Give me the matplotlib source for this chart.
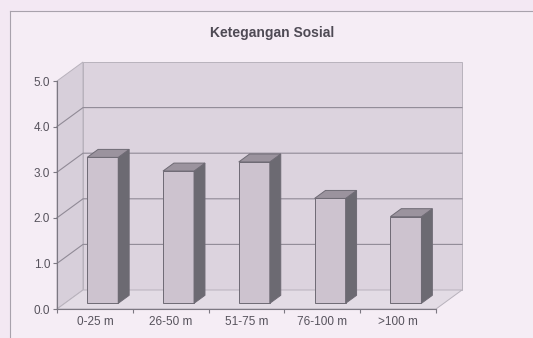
import matplotlib.pyplot as plt
import numpy as np

plt.rcParams['font.family'] = ['Liberation Sans', 'DejaVu Sans']

categories = ["0-25 m", "26-50 m", "51-75 m", "76-100 m", ">100 m"]
values = [3.2, 2.9, 3.1, 2.3, 1.9]
y_ticks = [0.0, 1.0, 2.0, 3.0, 4.0, 5.0]

W, H = 533, 338
fig = plt.figure(figsize=(W / 100, H / 100), dpi=100)
fig.patch.set_facecolor('#f3e8f3')

# chart area frame
frame = fig.add_axes([10 / W, 0, 1, 1 - 11 / H])
frame.set_facecolor('#f5edf5')
frame.set_xticks([])
frame.set_yticks([])
for s in frame.spines.values():
    s.set_color('#a8a2ac')
    s.set_linewidth(0.8)
frame.spines['right'].set_visible(False)
frame.spines['bottom'].set_visible(False)

# front plane of the 3d box
x0, x1, y0, y1 = 57, 436, 309, 81
ax = fig.add_axes([x0 / W, (H - y0) / H, (x1 - x0) / W, (y0 - y1) / H])
ax.set_xlim(0, len(categories))
ax.set_ylim(0, 5)
ax.patch.set_alpha(0)

n = len(categories)
ymax = y_ticks[-1]
DX = 26 / ((x1 - x0) / n)     # depth offset in category units
DY = 19 / ((y0 - y1) / ymax)  # depth offset in value units


def proj(x, v, d):
    return x + d * DX, v + d * DY


def face(pts, color, ec='#6e6a74', lw=0.7, z=1):
    xs, ys = zip(*[proj(*p) for p in pts])
    ax.fill(xs, ys, facecolor=color, edgecolor=ec, lw=lw, zorder=z, clip_on=False)


# walls
face([(0, 0, 1), (n, 0, 1), (n, ymax, 1), (0, ymax, 1)], '#dcd3de', ec='#b8b2bc', z=0)
face([(0, 0, 0), (0, 0, 1), (0, ymax, 1), (0, ymax, 0)], '#d7cfda', ec='#b8b2bc', z=0)
face([(0, 0, 0), (n, 0, 0), (n, 0, 1), (0, 0, 1)], '#e3dce5', ec='#b8b2bc', z=0)

# gridlines on back and side wall
for v in y_ticks[1:-1]:
    gx, gy = zip(proj(0, v, 0), proj(0, v, 1), proj(n, v, 1))
    ax.plot(gx, gy, color='#908a96', lw=0.8, zorder=0.5, clip_on=False)

# bars
bw, d0, d1 = 0.41, 0.3, 0.72
for i, v in enumerate(values):
    xl = i + 0.5 - bw / 2
    xr = xl + bw
    face([(xl, 0, d0), (xr, 0, d0), (xr, v, d0), (xl, v, d0)], '#cdc3cf', z=2)
    face([(xr, 0, d0), (xr, 0, d1), (xr, v, d1), (xr, v, d0)], '#6c6a72', z=2)
    face([(xl, v, d0), (xr, v, d0), (xr, v, d1), (xl, v, d1)], '#9b939e', z=2)

# axes
for s in ['top', 'right']:
    ax.spines[s].set_visible(False)
for s in ['left', 'bottom']:
    ax.spines[s].set_color('#7c7882')
    ax.spines[s].set_linewidth(0.8)
ax.set_yticks(y_ticks)
ax.set_yticklabels([f"{t:.1f}" for t in y_ticks], fontsize=8.5, color='#56525c')
ax.set_xticks(np.arange(n + 1))
ax.set_xticklabels([])
ax.set_xticks(np.arange(n) + 0.5, minor=True)
ax.set_xticklabels(categories, minor=True, fontsize=8.5, color='#56525c')
ax.tick_params(axis='y', length=3, width=0.8, color='#7c7882', pad=2)
ax.tick_params(axis='x', which='major', length=3, width=0.8, color='#7c7882')
ax.tick_params(axis='x', which='minor', length=0, pad=5)

fig.text(272 / W, 1 - 33 / H, "Ketegangan Sosial", ha='center', va='center',
         fontsize=10, fontweight='bold', color='#4e4a54')

fig.savefig("out.png", dpi=100, facecolor=fig.get_facecolor())
